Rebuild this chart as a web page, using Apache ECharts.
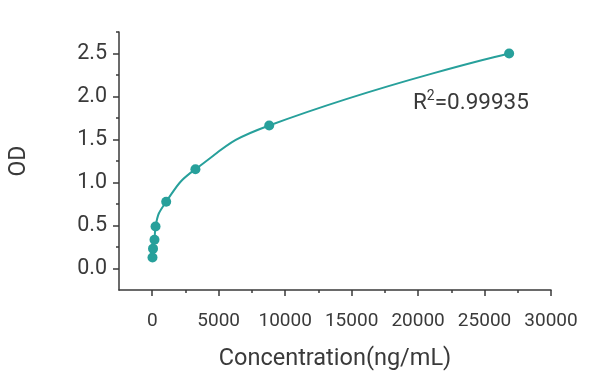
<!DOCTYPE html>
<html>
<head>
<meta charset="utf-8">
<script src="https://cdn.jsdelivr.net/npm/echarts@6/dist/echarts.min.js"></script>
<style>html,body{margin:0;padding:0;background:#fff;}#c{width:600px;height:389px;}</style>
</head>
<body>
<div id="c"></div>
<script>
// Data
var concentration = [20, 60, 170, 250, 1050, 3250, 8800, 26850];
var od = [0.127, 0.231, 0.335, 0.488, 0.777, 1.155, 1.663, 2.50];
var xTickLabels = [0, 5000, 10000, 15000, 20000, 25000, 30000];
var xMinorTicks = [2500, 7500, 12500, 17500, 22500, 27500];
var yTickLabels = [0, 0.5, 1.0, 1.5, 2.0, 2.5];
var yMinorTicks = [0.25, 0.75, 1.25, 1.75, 2.25, 2.75];
var rSquared = '0.99935';
var xTitle = 'Concentration(ng/mL)';
var yTitle = 'OD';

var teal = '#27a09b';
var axisColor = '#3a3a3a';
var textColor = '#3a3a3a';
var font = 'Roboto';

var chart = echarts.init(document.getElementById('c'));
var points = concentration.map(function (c, i) { return [c, od[i]]; });

function xAxisBase() {
  return { type: 'value', min: -2500, max: 30000, splitLine: { show: false } };
}
function yAxisBase() {
  return { type: 'value', min: -0.25, max: 2.75, splitLine: { show: false } };
}

chart.setOption({
  animation: false,
  grid: { left: 119, right: 49, top: 32, bottom: 99, containLabel: false },
  xAxis: [
    Object.assign(xAxisBase(), {
      name: xTitle, nameLocation: 'middle', nameGap: 57,
      nameTextStyle: { fontFamily: font, fontSize: 23.5, color: textColor },
      axisLine: { show: true, onZero: false, lineStyle: { color: axisColor, width: 1.5 } },
      axisTick: { show: true, length: 6, customValues: xTickLabels, lineStyle: { color: axisColor, width: 1.5 } },
      axisLabel: { customValues: xTickLabels, margin: 22, fontFamily: font, fontSize: 19, color: textColor,
        formatter: function (v) { return String(v); } }
    }),
    Object.assign(xAxisBase(), {
      position: 'bottom',
      axisLine: { show: false, onZero: false },
      axisTick: { show: true, length: 3, customValues: xMinorTicks, lineStyle: { color: axisColor, width: 1.5 } },
      axisLabel: { show: false }
    })
  ],
  yAxis: [
    Object.assign(yAxisBase(), {
      name: yTitle, nameLocation: 'middle', nameGap: 88, nameRotate: 90,
      nameTextStyle: { fontFamily: font, fontSize: 23, color: textColor },
      axisLine: { show: true, onZero: false, lineStyle: { color: axisColor, width: 1.5 } },
      axisTick: { show: true, length: 6, customValues: yTickLabels, lineStyle: { color: axisColor, width: 1.5 } },
      axisLabel: { customValues: yTickLabels, margin: 12, fontFamily: font, fontSize: 21.5, color: textColor,
        formatter: function (v) { return Number(v).toFixed(1); } }
    }),
    Object.assign(yAxisBase(), {
      position: 'left',
      axisLine: { show: false, onZero: false },
      axisTick: { show: true, length: 3, customValues: yMinorTicks, lineStyle: { color: axisColor, width: 1.5 } },
      axisLabel: { show: false }
    })
  ],
  series: [{
    type: 'line',
    data: points,
    smooth: 0.5,
    symbol: 'circle',
    symbolSize: 10,
    itemStyle: { color: teal },
    lineStyle: { color: teal, width: 2 }
  }],
  graphic: [{
    type: 'text',
    left: 413,
    top: 89,
    style: {
      text: '{r|R}{s|2}{r|=' + rSquared + '}',
      rich: {
        r: { fontFamily: font, fontSize: 22.5, fill: textColor, lineHeight: 26, verticalAlign: 'bottom' },
        s: { fontFamily: font, fontSize: 14, fill: textColor, lineHeight: 26, verticalAlign: 'top' }
      }
    }
  }]
});
</script>
</body>
</html>
